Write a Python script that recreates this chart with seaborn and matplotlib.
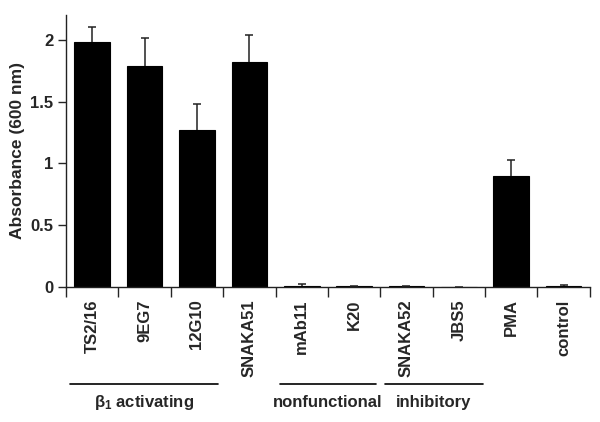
import numpy as np
import matplotlib
matplotlib.use('Agg')
import matplotlib.pyplot as plt
import matplotlib.transforms as mtransforms
import seaborn as sns
from pandas import DataFrame

antibodies = ['TS2/16', '9EG7', '12G10', 'SNAKA51', 'mAb11', 'K20',
              'SNAKA52', 'JBS5', 'PMA', 'control']
absorbance = [1.98, 1.79, 1.27, 1.82, 0.010, 0.005, 0.005, 0.0, 0.895, 0.005]
err = [0.12, 0.22, 0.21, 0.215, 0.012, 0.002, 0.002, 0.0, 0.13, 0.008]

groups = ['$\\beta_1$ activating', 'nonfunctional', 'inhibitory']
group_span = [(-0.42, 2.40), (3.58, 5.42), (5.59, 7.46)]

sns.set_style('ticks')
plt.rcParams['font.family'] = ['Liberation Sans', 'DejaVu Sans']
plt.rcParams['font.weight'] = 'bold'
plt.rcParams['mathtext.fontset'] = 'custom'
plt.rcParams['mathtext.rm'] = 'Liberation Sans:bold'
plt.rcParams['mathtext.it'] = 'Liberation Sans:bold'
plt.rcParams['mathtext.bf'] = 'Liberation Sans:bold'

df = DataFrame({'ab': antibodies, 'value': absorbance})

fig = plt.figure(figsize=(6, 4.22), dpi=100)
ax = fig.add_axes([0.11, 0.32, 0.873, 0.6445])
sns.barplot(x='ab', y='value', data=df, color='black', width=0.68,
            edgecolor='black', linewidth=0.8, saturation=1, ax=ax)
x = np.arange(len(antibodies))
eb = ax.errorbar(x, absorbance, yerr=[np.zeros(len(err)), err], fmt='none',
                 ecolor='#222222', elinewidth=1.1, capsize=3, capthick=1.1)
eb[1][0].set_visible(False)  # no lower cap

ax.set_xlim(-0.5, len(antibodies) - 0.5)
ax.set_ylim(0, 2.2)
ax.set_yticks([0, 0.5, 1, 1.5, 2])
ax.set_yticklabels(['0', '0.5', '1', '1.5', '2'])
ax.set_xticks(np.arange(-0.5, len(antibodies)), minor=False)
ax.set_xticklabels([])
ax.set_xticks(x, minor=True)
ax.set_xticklabels(antibodies, minor=True, rotation=90, fontsize=12,
                   fontweight='bold')
ax.tick_params(axis='x', which='minor', length=0, pad=9)
ax.tick_params(axis='x', which='major', length=7, width=1, direction='out')
ax.tick_params(axis='y', length=6, width=1, labelsize=12, pad=3)
for t in ax.get_yticklabels():
    t.set_fontweight('bold')
ax.set_xlabel('')
ax.set_ylabel('Absorbance (600 nm)', fontsize=12.5, fontweight='bold', labelpad=4)
sns.despine(ax=ax)
for s in ['left', 'bottom']:
    ax.spines[s].set_linewidth(1)
    ax.spines[s].set_color('#222222')

trans = mtransforms.blended_transform_factory(ax.transData, ax.transAxes)
for name, (a, b) in zip(groups, group_span):
    ax.plot([a, b], [-0.357, -0.357], color='black', lw=1.2,
            transform=trans, clip_on=False)
    ax.text((a + b) / 2, -0.425, name, transform=trans, ha='center',
            va='center', fontsize=12, fontweight='bold')

fig.savefig('out.png', dpi=100)
